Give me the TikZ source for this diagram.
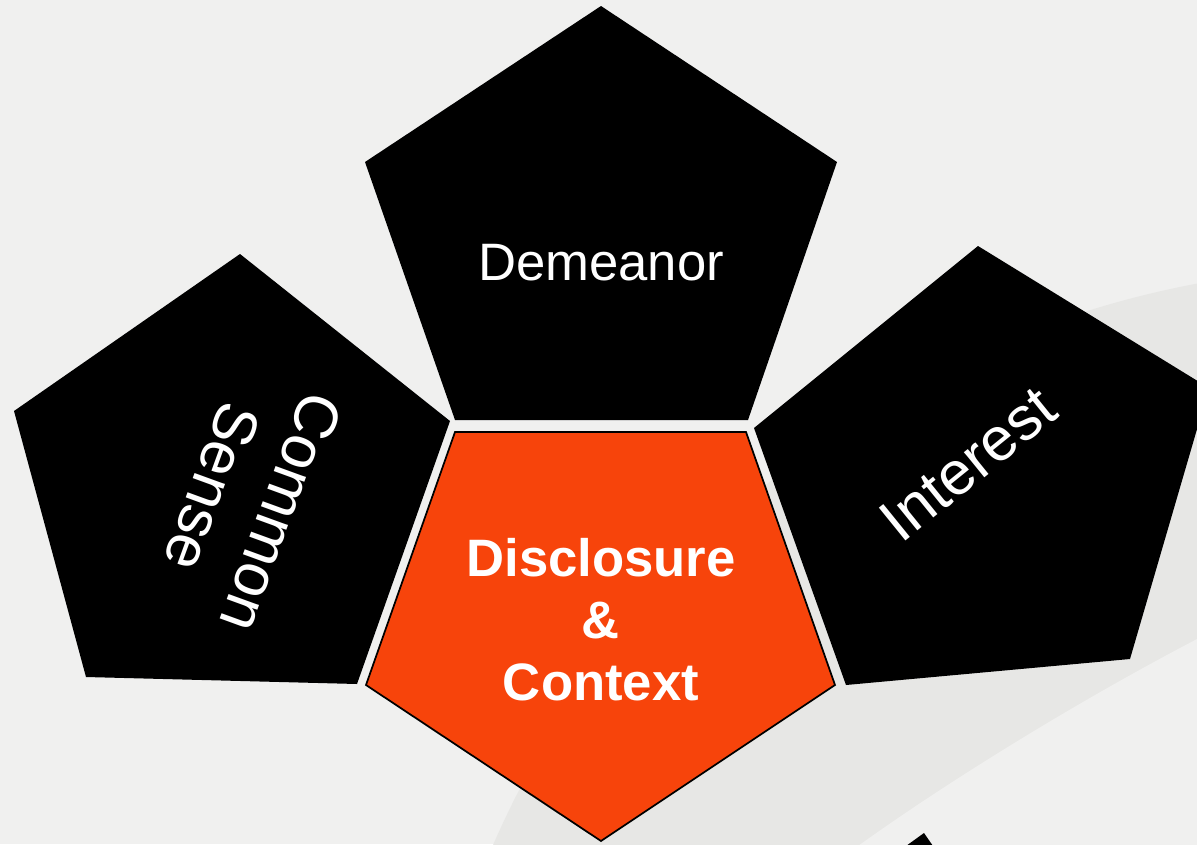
\documentclass[tikz,border=0pt]{standalone}
\usepackage{fontspec}
\setmainfont{Liberation Sans}
\usetikzlibrary{calc}
\definecolor{bggrey}{HTML}{F0F0EF}
\definecolor{bandgrey}{HTML}{E7E7E5}
\definecolor{hubfill}{HTML}{F7440B}
\newcommand{\petalfont}{\fontsize{39.5}{46.5}\selectfont}
\newcommand{\sidefont}{\fontsize{46}{55}\selectfont}

\begin{document}
\begin{tikzpicture}[x=0.75pt, y=-0.75pt,
  petal/.style={fill=black},
  hub/.style={fill=hubfill, draw=black, line width=1.3pt},
  petaltext/.style={text=white, font=\petalfont, align=center, inner sep=0pt}]

  \useasboundingbox (0,0) rectangle (1197,844);

  % background and the grey swoosh
  \begin{scope}
    \clip (0,0) rectangle (1197,844);
    \fill[bggrey] (0,0) rectangle (1197,844);
    \fill[bandgrey] (1376,1230) circle [radius=722.25pt];
    \fill[bggrey] (858,846) .. controls (950,780) and (1080,700) .. (1199,638) -- (1199,846) -- cycle;
    \fill (906,846) -- (924,833) -- (933,846) -- cycle;
  \end{scope}

  % top petal
  \coordinate (T1) at (601,6);
  \coordinate (T2) at (837,162);
  \coordinate (T3) at (748,420);
  \coordinate (T4) at (455,420);
  \coordinate (T5) at (365,162);
  % left petal
  \coordinate (L1) at (240,254);
  \coordinate (L2) at (450,421);
  \coordinate (L3) at (357,684);
  \coordinate (L4) at (86,677);
  \coordinate (L5) at (14,411);
  % right petal (its right corner lies off the page)
  \coordinate (R1) at (978,246);
  \coordinate (R2) at (1209,388);
  \coordinate (R3) at (1130,659);
  \coordinate (R4) at (846,685);
  \coordinate (R5) at (754,428);
  % centre pentagon, point down
  \coordinate (H1) at (455,432);
  \coordinate (H2) at (746,432);
  \coordinate (H3) at (835,685);
  \coordinate (H4) at (601,841);
  \coordinate (H5) at (366,685);

  \begin{scope}
    \clip (0,0) rectangle (1197,844);
    \fill[petal] (T1) -- (T2) -- (T3) -- (T4) -- (T5) -- cycle;
    \fill[petal] (L1) -- (L2) -- (L3) -- (L4) -- (L5) -- cycle;
    \fill[petal] (R1) -- (R2) -- (R3) -- (R4) -- (R5) -- cycle;
    \filldraw[hub] (H1) -- (H2) -- (H3) -- (H4) -- (H5) -- cycle;
  \end{scope}

  \node[petaltext] (demeanor) at (601,263) {Demeanor};
  \node[petaltext, font=\sidefont, rotate=-110] (sense) at (247,500) {Common\\Sense};
  \node[petaltext, font=\sidefont, rotate=39] (interest) at (968,464) {Interest};
  \node[petaltext, font=\petalfont\bfseries] (disclosure) at (601,620)
    {Disclosure\\\&\\Context};
\end{tikzpicture}
\end{document}
